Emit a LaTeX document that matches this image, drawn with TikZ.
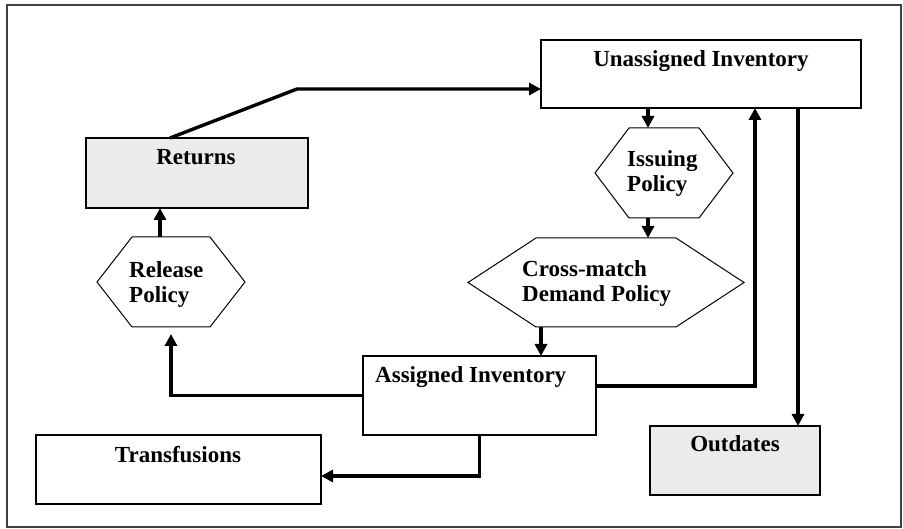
\documentclass[tikz,border=0pt]{standalone}
\usepackage{fontspec}
\setmainfont{Liberation Serif}
\usetikzlibrary{arrows.meta}

\tikzset{
  box/.style={draw=black, line width=1.5pt, inner sep=0pt, outer sep=0pt},
  shaded/.style={box, fill=black!8},
  hexarea/.style={inner sep=0pt, outer sep=0pt},
  hexline/.style={draw=black, line width=1pt},
  label/.style={font=\bfseries\fontsize{23}{25}\selectfont, inner sep=0pt, align=left},
  flow/.style={line width=3.4pt, -{Triangle[length=12pt,width=12pt]}},
  frame/.style={draw=black!75, line width=1.4pt}
}

% hexagon drawn inside the bounding rectangle of a node; #2 = horizontal inset of the top and bottom edges
\newcommand\hexagonof[2]{%
  \draw[hexline] ([xshift=#2]#1.north west) -- ([xshift=-#2]#1.north east) -- (#1.east)
    -- ([xshift=-#2]#1.south east) -- ([xshift=#2]#1.south west) -- (#1.west) -- cycle;}

\begin{document}
\begin{tikzpicture}[x=1pt, y=-1pt]
\useasboundingbox (0,0) rectangle (903,529);
\draw[frame] (7,5) rectangle (901,527);

% boxes
\node[box, minimum width=320pt, minimum height=68pt] (unass) at (701,74) {};
\node[shaded, minimum width=222pt, minimum height=70pt] (ret) at (197,173) {};
\node[box, minimum width=233pt, minimum height=79pt] (assig) at (479.5,395.5) {};
\node[shaded, minimum width=170pt, minimum height=69pt] (outd) at (735,460.5) {};
\node[box, minimum width=285pt, minimum height=69pt] (transf) at (178.5,469.5) {};

% policy hexagons
\node[hexarea, minimum width=138pt, minimum height=90pt] (issue) at (664,173) {};
\node[hexarea, minimum width=276pt, minimum height=89pt] (cross) at (606,282.5) {};
\node[hexarea, minimum width=148pt, minimum height=90pt] (release) at (171,282) {};
\hexagonof{issue}{34pt}
\hexagonof{cross}{68pt}
\hexagonof{release}{35pt}

% texts (for two-line labels the base anchor sits on the last line)
\node[label, anchor=base] (unass-t) at (701,67) {Unassigned Inventory};
\node[label, anchor=base] (ret-t) at (196,165) {Returns};
\node[label, anchor=base west] (assig-t) at (375,383) {Assigned Inventory};
\node[label, anchor=base] (outd-t) at (735,452) {Outdates};
\node[label, anchor=base] (transf-t) at (178,462) {Transfusions};
\node[label, anchor=base west] (release-t) at (129,303) {Release\\Policy};
\node[label, anchor=base west] (issue-t) at (627,192) {Issuing\\Policy};
\node[label, anchor=base west] (cross-t) at (522,302) {Cross-match\\Demand Policy};

% bends of the connectors
\coordinate (retbend) at (297,89);
\coordinate (relbend) at (171,395.5);
\coordinate (upbend) at (755,386);
\coordinate (trbend) at (479.5,476);

% connectors
\draw[flow] ([xshift=-27pt]ret.north) -- (retbend) -- (retbend -| unass.west);
\draw[flow] ([xshift=-16pt]issue.north |- unass.south) -- ([xshift=-16pt]issue.north);
\draw[flow] ([xshift=-16pt]issue.south) -- ([xshift=-16pt]issue.south |- cross.north);
\draw[flow] ([xshift=-65pt]cross.south) -- ([xshift=-65pt]cross.south |- assig.north);
\draw[flow] (assig.west) -- (relbend) -- ([yshift=-7pt]relbend |- release.south);
\draw[flow] ([xshift=-11pt]release.north) -- ([xshift=-11pt]release.north |- ret.south);
\draw[flow] (upbend -| assig.east) -- (upbend) -- (upbend |- unass.south);
\draw[flow] ([xshift=97pt]unass.south) -- ([xshift=97pt]unass.south |- outd.north);
\draw[flow] (assig.south) -- (trbend) -- (trbend -| transf.east);
\end{tikzpicture}
\end{document}
